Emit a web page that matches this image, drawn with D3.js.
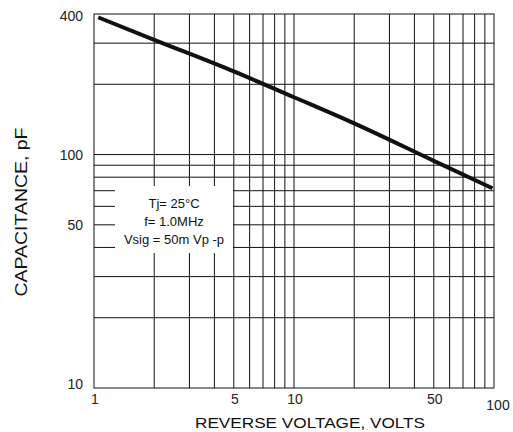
<!DOCTYPE html>
<html>
<head>
<meta charset="utf-8">
<script src="https://cdn.jsdelivr.net/npm/d3@7"></script>
<style>
  body { margin: 0; background: #fff; }
  svg { display: block; font-family: "Liberation Sans", Arial, sans-serif; }
</style>
</head>
<body>
<svg id="chart"></svg>
<script>
// reverse voltage (V) vs junction capacitance (pF)
const voltage = [1.05, 2, 5, 10, 20, 50, 98.3];
const capacitance = [387, 310, 227, 176, 136, 94, 71.7];

const xGrid = [2, 3, 4, 5, 6, 7, 8, 9, 10, 20, 30, 40, 50, 60, 70, 80, 90];
const yGrid = [20, 30, 40, 50, 60, 70, 80, 90, 100, 200, 300];
const xTickLabels = [1, 5, 10, 50, 100];
const yTickLabels = [10, 50, 100, 400];
const noteLines = ['Tj= 25°C', 'f= 1.0MHz', 'Vsig = 50m Vp -p'];

const width = 513, height = 432;
const margin = { top: 14, right: 19, bottom: 44, left: 94 };

const svg = d3.select('#chart')
  .attr('width', width)
  .attr('height', height);

const x = d3.scaleLog()
  .domain([1, 100])
  .range([margin.left, width - margin.right]);

const y = d3.scaleLog()
  .domain([10, 400])
  .range([height - margin.bottom, margin.top]);

// grid
svg.append('g')
  .selectAll('line')
  .data(xGrid)
  .enter()
  .append('line')
  .attr('x1', d => x(d)).attr('x2', d => x(d))
  .attr('y1', y(10)).attr('y2', y(400))
  .attr('stroke', '#111')
  .attr('stroke-width', 1);

svg.append('g')
  .selectAll('line')
  .data(yGrid)
  .enter()
  .append('line')
  .attr('x1', x(1)).attr('x2', x(100))
  .attr('y1', d => y(d)).attr('y2', d => y(d))
  .attr('stroke', '#111')
  .attr('stroke-width', 1);

svg.append('rect')
  .attr('x', x(1))
  .attr('y', y(400))
  .attr('width', x(100) - x(1))
  .attr('height', y(10) - y(400))
  .attr('fill', 'none')
  .attr('stroke', '#111')
  .attr('stroke-width', 1);

// condition note box
const note = svg.append('g');
note.append('rect')
  .attr('x', 115).attr('y', 186)
  .attr('width', 118).attr('height', 67)
  .attr('fill', '#fff');
note.selectAll('text')
  .data(noteLines)
  .enter()
  .append('text')
  .attr('x', 174)
  .attr('y', (d, i) => 207.5 + i * 18)
  .attr('text-anchor', 'middle')
  .attr('font-size', 13)
  .attr('fill', '#111')
  .text(d => d);

// curve
const line = d3.line()
  .x(d => x(d[0]))
  .y(d => y(d[1]))
  .curve(d3.curveMonotoneX);

svg.append('path')
  .datum(voltage.map((v, i) => [v, capacitance[i]]))
  .attr('d', line)
  .attr('fill', 'none')
  .attr('stroke', '#111')
  .attr('stroke-width', 4)
  .attr('stroke-linecap', 'butt');

// tick labels
svg.append('g')
  .selectAll('text')
  .data(xTickLabels)
  .enter()
  .append('text')
  .attr('x', d => x(d) + (d === 100 ? 4 : 1))
  .attr('y', d => y(10) + (d === 100 ? 22 : 16))
  .attr('text-anchor', 'middle')
  .attr('font-size', 14)
  .attr('fill', '#222')
  .text(d => d);

svg.append('g')
  .selectAll('text')
  .data(yTickLabels)
  .enter()
  .append('text')
  .attr('x', 83)
  .attr('y', d => Math.min(Math.max(y(d) + 5, 21), 389))
  .attr('text-anchor', 'end')
  .attr('font-size', 14)
  .attr('fill', '#222')
  .text(d => d);

// axis titles
svg.append('text')
  .attr('x', 310)
  .attr('y', 428)
  .attr('text-anchor', 'middle')
  .attr('font-size', 15.5)
  .attr('fill', '#111')
  .attr('textLength', 230)
  .attr('lengthAdjust', 'spacingAndGlyphs')
  .text('REVERSE VOLTAGE, VOLTS');

svg.append('text')
  .attr('transform', 'translate(27,212) rotate(-90)')
  .attr('text-anchor', 'middle')
  .attr('font-size', 16)
  .attr('fill', '#111')
  .attr('textLength', 169)
  .attr('lengthAdjust', 'spacingAndGlyphs')
  .text('CAPACITANCE, pF');
</script>
</body>
</html>
